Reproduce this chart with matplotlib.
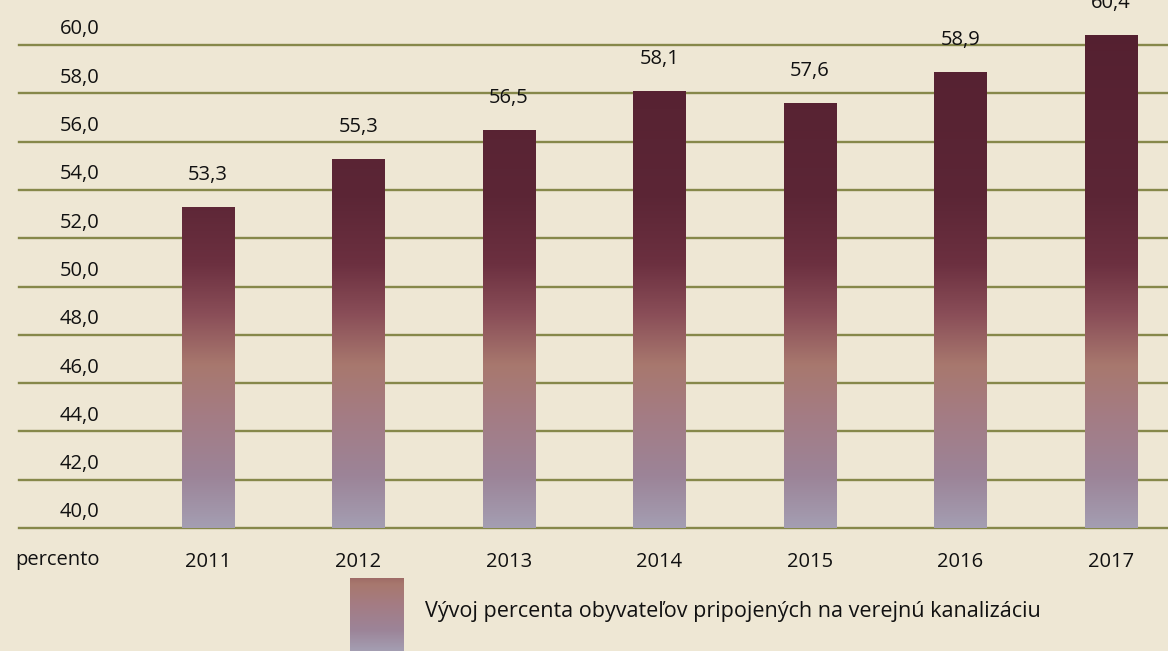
import numpy as np
import matplotlib
matplotlib.use("Agg")
import matplotlib.pyplot as plt
from matplotlib.colors import LinearSegmentedColormap
from matplotlib.transforms import ScaledTranslation

# ── data ──────────────────────────────────────────────────────────────────────
years = ["2011", "2012", "2013", "2014", "2015", "2016", "2017"]
values = [53.3, 55.3, 56.5, 58.1, 57.6, 58.9, 60.4]
yticks = [40, 42, 44, 46, 48, 50, 52, 54, 56, 58, 60]
legend_label = "Vývoj percenta obyvateľov pripojených na verejnú kanalizáciu"
axis_label = "percento"

# ── style ─────────────────────────────────────────────────────────────────────
plt.rcParams["font.family"] = ["Open Sans", "DejaVu Sans"]
bg = "#eee7d4"
grid_col = "#86884a"
txt_col = "#111111"
fs = 14.5
bar_cmap = LinearSegmentedColormap.from_list("scales", [
    (0.00, "#a49eb2"),
    (0.10, "#9c8498"),
    (0.22, "#a47c84"),
    (0.32, "#a8786e"),
    (0.42, "#8a4e58"),
    (0.52, "#6c3040"),
    (0.65, "#5c2636"),
    (1.00, "#542030"),
])

W, H, DPI = 1168, 651, 100
fig = plt.figure(figsize=(W / DPI, H / DPI), dpi=DPI, facecolor=bg)

# axes box in pixels: left edge of grid, baseline, 60-line
left_px, base_px, top_px = 19, 528, 45
ax = fig.add_axes([left_px / W, (H - base_px) / H,
                   1 - left_px / W, (base_px - top_px) / H])
ax.set_facecolor("none")

x = np.arange(len(years))
bars = ax.bar(x, [v - 40 for v in values], bottom=40, width=0.35,
              color="none", edgecolor="none", zorder=2)

# gradient fill clipped to each bar
grad = np.linspace(0, 1, 256).reshape(-1, 1)
for b in bars:
    im = ax.imshow(grad, cmap=bar_cmap, origin="lower", aspect="auto",
                   extent=(b.get_x(), b.get_x() + b.get_width(), 40, 61),
                   zorder=2)
    im.set_clip_path(b)

for xi, v in zip(x, values):
    ax.annotate(f"{v:.1f}".replace(".", ","), (xi, v), xytext=(0, 23),
                textcoords="offset points", ha="center", va="center",
                fontsize=fs, color=txt_col, annotation_clip=False)

ax.set_xlim(-1.256, 6.379)
ax.set_ylim(40, 60)
ax.set_yticks(yticks)
ax.set_yticklabels([f"{t:.1f}".replace(".", ",") for t in yticks])
ax.set_xticks(x)
ax.set_xticklabels(years)
ax.tick_params(axis="y", length=0, pad=-58, labelsize=fs, labelcolor=txt_col)
ax.tick_params(axis="x", length=0, pad=17, labelsize=fs, labelcolor=txt_col)
shift = ScaledTranslation(0, 18 / DPI, fig.dpi_scale_trans)
for lab in ax.get_yticklabels():
    lab.set_transform(lab.get_transform() + shift)

ax.grid(axis="y", color=grid_col, linewidth=1.7, zorder=1)
ax.set_axisbelow(True)
for s in ax.spines.values():
    s.set_visible(False)
for gl in ax.get_ygridlines():
    gl.set_clip_on(False)

fig.text(100 / W, 1 - 560 / H, axis_label, ha="right", va="center",
         fontsize=fs, color=txt_col)

# legend swatch + label
sw = fig.add_axes([350 / W, 0, 54 / W, 73 / H])
sw.imshow(grad[:90], cmap=bar_cmap, origin="lower", aspect="auto",
          vmin=0, vmax=1)
sw.axis("off")
fig.text(425 / W, 1 - 612 / H, legend_label, ha="left", va="center",
         fontsize=15.5, color=txt_col)

fig.savefig("out.png", dpi=DPI, facecolor=bg)
